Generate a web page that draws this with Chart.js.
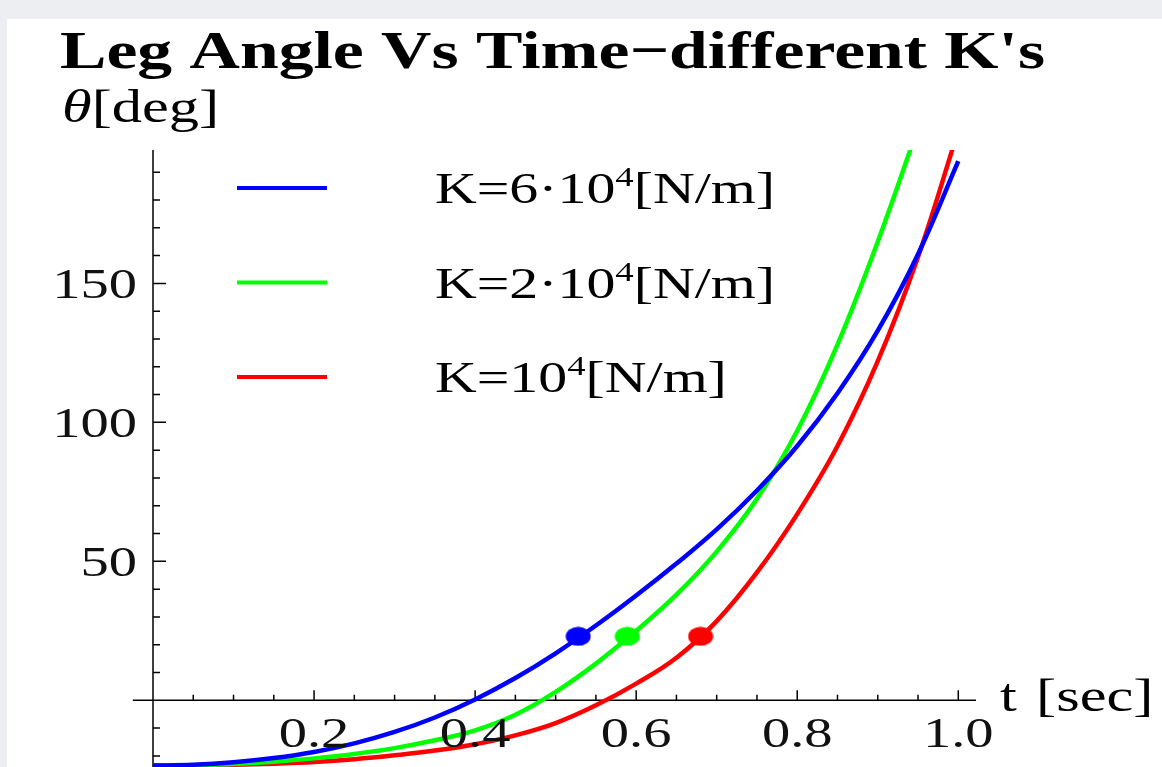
<!DOCTYPE html>
<html lang="en">
<head>
  <meta charset="UTF-8">
  <title>Leg Angle Vs Time - different K's</title>
  <script src="https://cdn.jsdelivr.net/npm/chart.js"></script>
  <style>
    body { margin: 0; background: #edeef2; }
    #panel { position: absolute; left: 7px; top: 19px; width: 1155px; height: 748px; background: #fff; }
    #legChart { display: block; }
  </style>
</head>
<body>
  <div id="panel"><canvas id="legChart" width="1155" height="748"></canvas></div>
  <script>
    // time [sec]
    const tVals = [0, 0.05, 0.1, 0.15, 0.2, 0.25, 0.3, 0.35, 0.4, 0.45, 0.5,
                   0.55, 0.6, 0.65, 0.7, 0.75, 0.8, 0.85, 0.9, 0.95, 1.0];
    // leg angle [deg] for each spring constant
    const thetaK6 = [-23.5, -23.2, -22.3, -20.8, -18.6, -15.5, -11.4, -6.2, 0.3, 8.0, 16.9,
                     26.9, 37.7, 49.2, 61.5, 75.5, 91.5, 110.5, 133, 160.5, 194];
    const thetaK2 = [-23.5, -23.35, -22.9, -22.1, -20.9, -19.3, -17.2, -14.4, -10.8, -5.2, 3,
                     13.2, 25, 38, 53.5, 72.5, 97, 128, 165, 206];
    const thetaK1 = [-23.5, -23.45, -23.2, -22.8, -22.2, -21.2, -19.8, -18.1, -15.8, -12.6, -8.2,
                     -1.8, 6, 15.3, 28.5, 46, 67, 91.5, 122, 159.5, 205];
    // marked points
    const markT = [0.528, 0.589, 0.68];
    const markTheta = [23, 23, 23];

    const seriesLabels = ['K=6·10⁴[N/m]', 'K=2·10⁴[N/m]', 'K=10⁴[N/m]'];
    const seriesColors = ['#0000ff', '#00ff00', '#ff0000'];

    const xTickVals = [0.2, 0.4, 0.6, 0.8, 1.0];
    const xTickLabels = ['0.2', '0.4', '0.6', '0.8', '1.0'];
    const yTickVals = [50, 100, 150];
    const yTickLabels = ['50', '100', '150'];

    const titleText = "Leg Angle Vs Time\u2212different K's";
    const SERIF = '"Liberation Serif", "Times New Roman", serif';
    let sx = 1.3; // the picture is stretched sideways, text too

    function toPoints(arr) {
      return arr.map((v, i) => ({ x: tVals[i], y: v }));
    }

    function ellipseDot(color) {
      const c = document.createElement('canvas');
      c.width = 26; c.height = 20;
      const g = c.getContext('2d');
      g.fillStyle = color;
      g.beginPath();
      g.ellipse(13, 10, 12.5, 9.5, 0, 0, Math.PI * 2);
      g.fill();
      return c;
    }

    function wideText(ctx, txt, x, y, font, align) {
      ctx.save();
      ctx.font = font;
      const w = ctx.measureText(txt).width * sx;
      let x0 = x;
      if (align === 'center') x0 = x - w / 2;
      else if (align === 'right') x0 = x - w;
      ctx.translate(x0, y);
      ctx.scale(sx, 1);
      ctx.textAlign = 'left';
      ctx.textBaseline = 'alphabetic';
      ctx.fillText(txt, 0, 0);
      ctx.restore();
      return w;
    }

    const mmaAxes = {
      id: 'mmaAxes',
      beforeDatasetsDraw(chart) {
        const { ctx, chartArea, scales: { x, y } } = chart;
        const x0 = x.getPixelForValue(0), y0 = y.getPixelForValue(0);
        ctx.save();
        ctx.strokeStyle = '#000';
        ctx.lineWidth = 1.5;
        ctx.beginPath();
        ctx.moveTo(x0, chartArea.top); ctx.lineTo(x0, chartArea.bottom);
        ctx.moveTo(x.getPixelForValue(-0.025), y0); ctx.lineTo(chartArea.right, y0);
        for (let k = 1; k <= 20; k++) {
          const px = x.getPixelForValue(k * 0.05);
          const len = k % 4 === 0 ? 10 : 5.5;
          ctx.moveTo(px, y0); ctx.lineTo(px, y0 - len);
        }
        for (let v = -20; v <= 190; v += 10) {
          if (v === 0) continue;
          const py = y.getPixelForValue(v);
          const len = v % 50 === 0 ? 13 : 7;
          ctx.moveTo(x0, py); ctx.lineTo(x0 + len, py);
        }
        ctx.stroke();
        ctx.restore();
      },
      afterDraw(chart) {
        const { ctx, chartArea, scales: { x, y } } = chart;
        const x0 = x.getPixelForValue(0), y0 = y.getPixelForValue(0);
        ctx.save();
        ctx.fillStyle = '#000';

        // title, fit the stretch to the title width
        ctx.font = 'bold 53px ' + SERIF;
        sx = 985 / ctx.measureText(titleText).width;
        wideText(ctx, titleText, 53, 49, 'bold 53px ' + SERIF, 'left');

        // axis labels
        let w = wideText(ctx, 'θ', x0 - 91, 103, 'italic 46px ' + SERIF, 'left');
        wideText(ctx, '[deg]', x0 - 91 + w, 103, '46px ' + SERIF, 'left');
        const tx0 = chartArea.right + 24;
        wideText(ctx, 't', tx0, y0 + 11, '46px ' + SERIF, 'left');
        wideText(ctx, '[sec]', tx0 + 36, y0 + 11, '46px ' + SERIF, 'left');

        // tick labels
        ctx.fillStyle = '#111';
        xTickVals.forEach((v, i) => {
          wideText(ctx, xTickLabels[i], x.getPixelForValue(v), y0 + 47, '43px ' + SERIF, 'center');
        });
        yTickVals.forEach((v, i) => {
          wideText(ctx, yTickLabels[i], x0 - 16, y.getPixelForValue(v) + 15, '43px ' + SERIF, 'right');
        });

        // legend
        ctx.fillStyle = '#000';
        chart.data.datasets.slice(0, 3).forEach((ds, i) => {
          const ly = chartArea.top + 38 + i * 94.5;
          ctx.strokeStyle = ds.borderColor;
          ctx.lineWidth = 4;
          ctx.beginPath();
          ctx.moveTo(x0 + 84, ly); ctx.lineTo(x0 + 174, ly);
          ctx.stroke();
          const parts = ds.label.split('⁴');
          let tx = x0 + 282;
          tx += wideText(ctx, parts[0], tx, ly + 15, '44px ' + SERIF, 'left');
          tx += wideText(ctx, '4', tx, ly - 2, '28px ' + SERIF, 'left');
          wideText(ctx, parts[1], tx, ly + 15, '44px ' + SERIF, 'left');
        });
        ctx.restore();
      }
    };

    const lineSet = (label, arr, color) => ({
      label: label,
      data: toPoints(arr),
      showLine: true,
      borderColor: color,
      backgroundColor: color,
      borderWidth: 4.5,
      pointRadius: 0,
      tension: 0.4
    });

    const ctx = document.getElementById('legChart').getContext('2d');
    const legChart = new Chart(ctx, {
      type: 'scatter',
      data: {
        datasets: [
          lineSet(seriesLabels[0], thetaK6, seriesColors[0]),
          lineSet(seriesLabels[1], thetaK2, seriesColors[1]),
          lineSet(seriesLabels[2], thetaK1, seriesColors[2]),
          {
            label: 'marks',
            data: markT.map((t, i) => ({ x: t, y: markTheta[i] })),
            showLine: false,
            pointStyle: seriesColors.map(ellipseDot),
            pointRadius: 10,
            backgroundColor: seriesColors
          }
        ]
      },
      options: {
        responsive: false,
        animation: false,
        layout: { autoPadding: false, padding: { left: 146, top: 131, right: 186, bottom: 0 } },
        scales: {
          x: { type: 'linear', min: 0, max: 1.022, display: false },
          y: { type: 'linear', min: -24, max: 198, display: false }
        },
        plugins: {
          legend: { display: false },
          title: { display: false },
          tooltip: { enabled: false }
        }
      },
      plugins: [mmaAxes]
    });
  </script>
</body>
</html>
